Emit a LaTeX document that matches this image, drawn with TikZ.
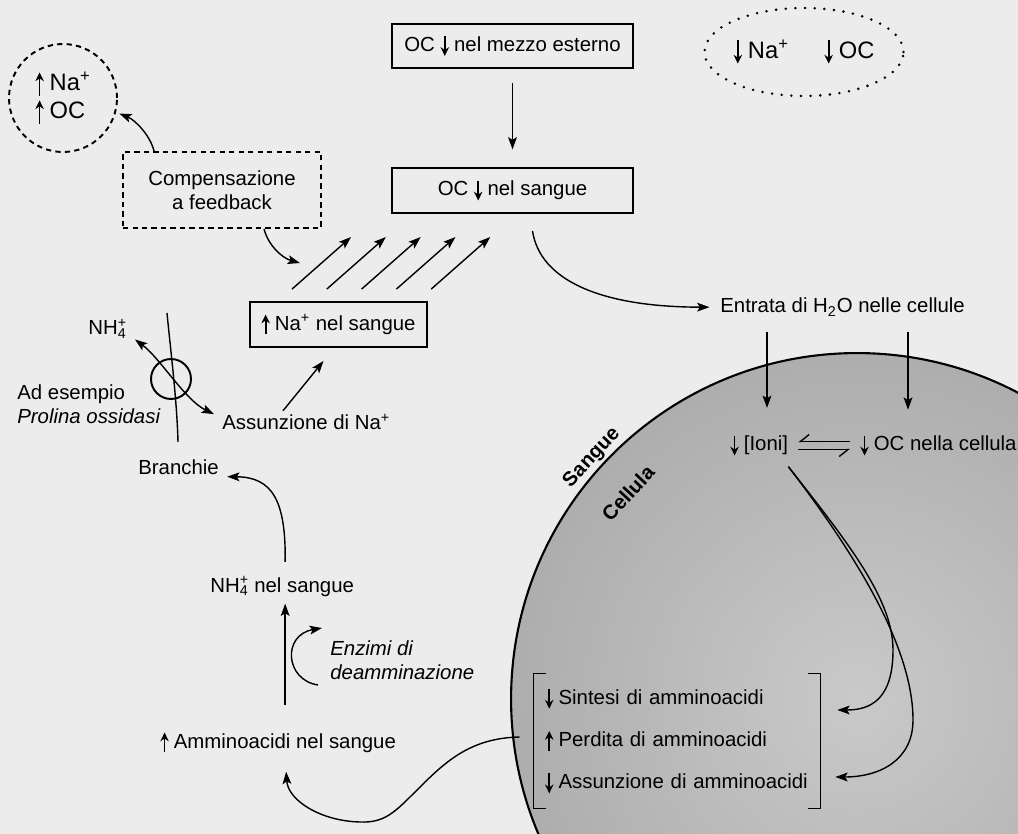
\documentclass[tikz,border=0pt]{standalone}
\usepackage{fontspec}
\setmainfont{Liberation Sans}
\usetikzlibrary{arrows.meta,shapes.geometric,calc}

% small arrows inside the text
\newcommand{\su}{\tikz[baseline=0pt]\draw[line width=1pt,-{Stealth[length=5pt,width=4.8pt]}] (0,-.22em) -- (0,.76em);\hspace{.25em}}
\newcommand{\giu}{\tikz[baseline=0pt]\draw[line width=1pt,-{Stealth[length=5pt,width=4.8pt]}] (0,.76em) -- (0,-.22em);\hspace{.25em}}
\newcommand{\ammonio}{\rlap{\textsuperscript{+}}\textsubscript{4}}

\tikzset{
	freccia/.style={line width=.8pt,-{Stealth[length=7pt,width=5pt,inset=1.5pt]}},
	scatola/.style={draw,line width=1.1pt,minimum width=4.82cm,minimum height=.88cm},
	testo/.style={inner sep=0pt,anchor=base west},
}

\begin{document}
\begin{tikzpicture}[x=0.02cm,y=-0.02cm,font=\fontsize{11.6}{13.4}\selectfont]
	% page
	\useasboundingbox (0,0) rectangle (1018,834);
	\clip (0,0) rectangle (1018,834);
	\fill[gray!15] (0,0) rectangle (1018,834);
	% cell
	\shade[draw=black,line width=1.2pt,inner color=gray!42,outer color=gray!64] (857,699) circle[radius=6.92cm];
	\node[rotate=47,font=\fontsize{11.5}{13}\selectfont\bfseries] (sangue) at (592,458) {Sangue};
	\node[rotate=47,font=\fontsize{11.5}{13}\selectfont\bfseries] (cellulaLab) at (628,493) {Cellula};
	% boxes
	\node[scatola] (mezzo) at (512.5,46) {OC \giu nel mezzo esterno};
	\node[scatola,minimum height=.9cm] (sangueOC) at (512.5,190.5) {OC \giu nel sangue};
	\node[scatola,minimum width=3.54cm,minimum height=.9cm] (na) at (338.5,324.5) {\su Na\textsuperscript{+} nel sangue};
	\node[draw,line width=1.1pt,dash pattern=on 3pt off 2.4pt,minimum width=3.96cm,minimum height=1.52cm,align=center] (comp) at (222,190) {Compensazione\\a feedback};
	\node[circle,draw,line width=1.1pt,dash pattern=on 3pt off 2.4pt,minimum size=2.16cm,inner sep=0pt,align=left,font=\fontsize{13.5}{15.9}\selectfont] (cerchio) at (63,98) {\su Na\textsuperscript{+}\\\su OC};
	\node[ellipse,draw,line width=1.6pt,line cap=round,dash pattern=on 0pt off 5.5pt,minimum width=3.36cm,minimum height=1.76cm,inner sep=0pt,font=\fontsize{13.5}{15.9}\selectfont] (ellisse) at (804,52) {\giu Na\textsuperscript{+}\hspace{1.5em}\giu OC};
	% free texts
	\path
	(720,313) node[testo] (entrata) {Entrata di H\textsubscript{2}O nelle cellule}
	(730,451) node[testo] (ioni) {\giu[Ioni]}
	(860,451) node[testo] (cellula) {\giu OC nella cellula}
	(160,748) node[testo] (aa) {\su Amminoacidi nel sangue}
	(210,592) node[testo] (nhs) {NH\ammonio\ nel sangue}
	(138,475) node[testo] (branchie) {Branchie}
	(222,430) node[testo] (assNa) {Assunzione di Na\textsuperscript{+}}
	(88,335) node[testo] (nh4) {NH\ammonio}
	;
	\node[anchor=west,inner sep=0pt,align=left,font=\fontsize{11.6}{13.6}\selectfont\itshape] (enzimi) at (330,660) {Enzimi di\\deamminazione};
	\node[anchor=west,inner sep=0pt,align=left,font=\fontsize{11.6}{13.6}\selectfont] (esempio) at (17,404) {Ad esempio\\\textit{Prolina ossidasi}};
	\node[text width=5.28cm,inner xsep=.22cm,minimum height=2.7cm,align=left,font=\fontsize{11.6}{24.1}\selectfont] (amino) at (677,741) {\giu Sintesi di amminoacidi\\\su Perdita di amminoacidi\\\giu Assunzione di amminoacidi};
	% brackets
	\draw[line width=.6pt] ($(amino.north west)+(12,0)$) -| (amino.south west) -- ++(12,0);
	\draw[line width=.6pt] ($(amino.north east)+(-12,0)$) -| (amino.south east) -- ++(-12,0);
	% gill and carrier
	\draw[line width=.8pt] (167,313) .. controls (170,345) and (177,400) .. (178,442);
	\node[circle,draw,line width=1.1pt,minimum size=.8cm,inner sep=0pt] (trasportatore) at (171,379) {};
	% connectors
	\draw[freccia,shorten <=8pt,shorten >=10pt] (mezzo) -- (sangueOC);
	\draw[freccia,shorten >=2pt] ($(comp.north west)+(32,0)$) .. controls (150,135) and (135,120) .. (cerchio.-15);
	\coordinate (fasci) at (300,263);
	\draw[freccia] ($(comp.south west)+(142,0)$) .. controls (268,245) and (282,258) .. (fasci);
	\foreach \i in {0,...,4}
		\draw[freccia] ($(na.north west)+(43+34.8*\i,-12)$) -- ++(59,-52);
	\draw[freccia,shorten >=6pt] ($(sangueOC.south)+(20,17)$) .. controls (540,280) and (600,307) .. (entrata.west);
	\draw[freccia,shorten <=9pt,shorten >=15pt] ($(ioni.north west |- entrata.south)+(37,0)$) -- ($(ioni.north west)+(37,0)$);
	\draw[freccia,shorten <=9pt,shorten >=14pt] ($(cellula.north west |- entrata.south)+(48,0)$) -- ($(cellula.north west)+(48,0)$);
	\draw[line width=.8pt,-{Straight Barb[right,length=5pt,width=8pt]}] ($(cellula.west)+(-10,-4)$) -- ($(ioni.east)+(10,-4)$);
	\draw[line width=.8pt,-{Straight Barb[right,length=5pt,width=8pt]}] ($(ioni.east)+(10,4)$) -- ($(cellula.west)+(-10,4)$);
	\draw[freccia] ($(ioni.south east)+(0,10)$) .. controls (850,545) and (893,600) .. (893,650) .. controls (893,700) and (870,710) .. ($(amino.east)+(17,-31)$);
	\draw[freccia] ($(ioni.south east)+(0,10)$) .. controls (860,560) and (913,650) .. (913,720) .. controls (913,760) and (880,777) .. ($(amino.east)+(15,36)$);
	\draw[freccia] ($(amino.west)+(-14,-4)$) .. controls (470,738) and (445,762) .. (417,790) .. controls (395,812) and (385,823) .. (360,822) .. controls (320,821) and (288,800) .. ($(aa.south)+(8,18)$);
	\draw[freccia,shorten <=15pt,shorten >=4pt] ($(nhs.south |- aa.north)+(3,0)$) -- ($(nhs.south)+(3,0)$);
	\draw[freccia] ($(enzimi.west)+(-12,25)$) .. controls ($(enzimi.west)+(-45,20)$) and ($(enzimi.west)+(-48,-25)$) .. ($(enzimi.west)+(-8,-32)$);
	\draw[freccia] ($(nhs.north)+(3,-14)$) .. controls (286,500) and (272,477) .. ($(branchie.east)+(8,9)$);
	\draw[line width=.8pt,{Stealth[length=7pt,width=5pt,inset=1.5pt]}-{Stealth[length=7pt,width=5pt,inset=1.5pt]}] ($(nh4.south east)+(8,1)$) .. controls (160,358) and (185,400) .. ($(assNa.west)+(-8,-8)$);
	\draw[freccia] ($(assNa.north west)+(61,-3)$) -- ($(na.south)+(-15,13)$);
\end{tikzpicture}
\end{document}
